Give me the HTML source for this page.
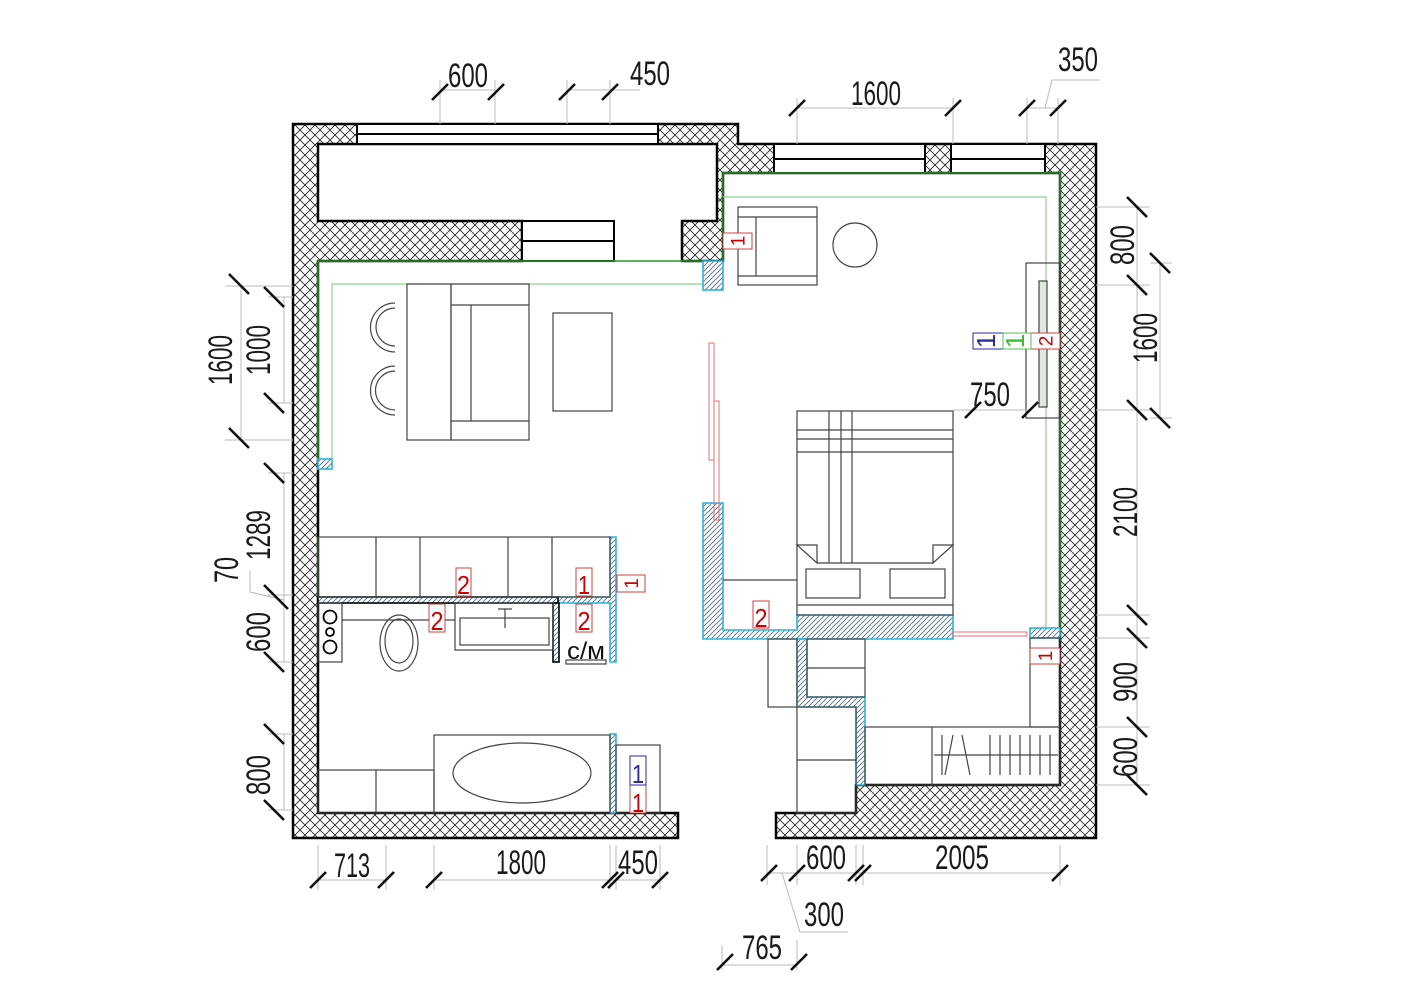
<!DOCTYPE html>
<html><head><meta charset="utf-8"><style>
html,body{margin:0;padding:0;background:#fff;width:1415px;height:1000px;overflow:hidden}
svg{display:block}
.d{font-family:"Liberation Sans",sans-serif;font-size:34px;fill:#1a1a1a}
.r{font-family:"Liberation Sans",sans-serif;font-size:26px;fill:#c00}
.t{stroke:#111;stroke-width:2.6}
.e{stroke:#bbb;stroke-width:1;fill:none}
.f{fill:none;stroke:#444;stroke-width:1.2}
</style></head><body>
<svg width="1415" height="1000" viewBox="0 0 1415 1000" xmlns="http://www.w3.org/2000/svg">
<defs>
<pattern id="x" width="10" height="10" patternUnits="userSpaceOnUse">
<rect width="10" height="10" fill="#fff"/>
<path d="M0,10 L10,0 M-2,2 L2,-2 M8,12 L12,8" stroke="#222" stroke-width="0.8"/>
<path d="M0,0 L10,10 M-2,8 L2,12 M8,-2 L12,2" stroke="#222" stroke-width="0.8"/>
</pattern>
<pattern id="b" width="5" height="5" patternUnits="userSpaceOnUse">
<rect width="5" height="5" fill="#fff"/>
<path d="M0,5 L5,0 M-1,1 L1,-1 M4,6 L6,4" stroke="#4a6a80" stroke-width="0.8"/>
</pattern>
</defs>

<path d="M738,124 H293 V838 H678 V813 H318 V261 H522 V221 H318 V144 H717 V221 H682 V261 H723 V173 H1060 V785 H856 V813 H776 V838 H1096 V144 H738 Z" fill="url(#x)" stroke="#000" stroke-width="2.5"/>
<rect x="357" y="124" width="301" height="20" fill="#fff" stroke="#000" stroke-width="2"/>
<line x1="357" y1="134" x2="658" y2="134" stroke="#000" stroke-width="2"/>
<rect x="774" y="144" width="151" height="29" fill="#fff" stroke="#000" stroke-width="2"/>
<line x1="774" y1="159" x2="925" y2="159" stroke="#000" stroke-width="2"/>
<rect x="951" y="144" width="94" height="29" fill="#fff" stroke="#000" stroke-width="2"/>
<line x1="951" y1="159" x2="1045" y2="159" stroke="#000" stroke-width="2"/>
<rect x="522" y="221" width="92" height="40" fill="#fff" stroke="#000" stroke-width="2"/>
<line x1="522" y1="241" x2="614" y2="241" stroke="#000" stroke-width="2"/>

<g stroke="#2a9a2a" fill="none">
<path d="M318,470 V261 H703" stroke-width="1.5"/>
<path d="M332,459 V284 H703" stroke="#8fd08f" stroke-width="1.2"/>
<path d="M723,261 V173 H1060 V628" stroke-width="1.5"/>
<path d="M723,197 H1046 V628" stroke="#8fd08f" stroke-width="1.2"/>
<line x1="318" y1="537" x2="318" y2="597" stroke-width="1.5"/>
</g>

<g fill="url(#b)" stroke="#2ab4e0" stroke-width="1.6">
<rect x="703" y="261" width="20" height="29"/>
<rect x="318" y="459" width="14" height="10"/>
<path d="M703,503 H723 V630 H797 V615 H953 V639 H703 Z"/>
<path d="M797,639 H807 V697 H865 V785 H856 V707 H797 Z"/>
<rect x="1030" y="628" width="30" height="10"/>
<path d="M610,537 H616 V662 H610 V603 H558 V597 H610 Z"/>
<rect x="610" y="734" width="6" height="79"/>
</g>
<g fill="url(#b)" stroke="#000" stroke-width="1.6">
<rect x="318" y="597" width="240" height="6"/>
<rect x="553" y="603" width="6" height="59"/>
</g>

<g class="f">
<rect x="318" y="537" width="292" height="60"/>
<path d="M376,537 V597 M420,537 V597 M508,537 V597 M552,537 V597"/>
<rect x="318" y="603" width="24" height="59"/>
<circle cx="330" cy="617" r="6.5" stroke="#000" stroke-width="1.8"/>
<circle cx="330" cy="632" r="4" stroke="#000" stroke-width="1.8"/>
<circle cx="330" cy="647" r="6.5" stroke="#000" stroke-width="1.8"/>
<line x1="342" y1="620" x2="455" y2="620"/>
<ellipse cx="399" cy="643" rx="19" ry="28"/>
<ellipse cx="399" cy="641" rx="14" ry="22"/>
<rect x="455" y="603" width="98" height="47"/>
<rect x="460" y="618" width="89" height="27"/>
<path d="M498,609 H512 M505,609 V628"/>
<rect x="566" y="660" width="40" height="4"/>
<rect x="434" y="735" width="176" height="78"/>
<ellipse cx="522" cy="773" rx="69" ry="30"/>
<rect x="318" y="770" width="116" height="43"/>
<line x1="376" y1="770" x2="376" y2="813"/>
<rect x="616" y="745" width="44" height="68"/>
<path d="M395,303 A22,22 0 1,0 395,352 M395,308 A18,18 0 1,0 395,346"/>
<path d="M395,366 A22,22 0 1,0 395,415 M395,371 A18,18 0 1,0 395,410"/>
<rect x="407" y="284" width="44" height="156"/>
<rect x="451" y="284" width="78" height="156"/>
<path d="M451,305 H529 M451,421 H529 M471,305 V421"/>
<rect x="553" y="313" width="59" height="98"/>
<rect x="738" y="207" width="79" height="78"/>
<path d="M738,217 H817 M738,276 H817 M756,217 V276"/>
<circle cx="855" cy="245" r="22"/>
<rect x="1026" y="263" width="34" height="155"/>
<rect x="1039" y="281" width="8" height="126" fill="#dfe8df"/>
<rect x="797" y="411" width="156" height="204"/>
<path d="M797,430 H953 M797,439 H953 M797,452 H953 M829,411 V563 M841,411 V563 M852,411 V563 M817,563 H933 M797,605 H953"/>
<path d="M797,545 L817,545 L817,563 Z M953,545 L933,545 L933,563 Z"/>
<rect x="806" y="569" width="54" height="29"/>
<rect x="890" y="569" width="55" height="29"/>
<rect x="768" y="639" width="29" height="68"/>
<path d="M723,580 H797"/>
<rect x="807" y="639" width="58" height="58"/>
<line x1="807" y1="668" x2="865" y2="668"/>
<rect x="797" y="707" width="59" height="106"/>
<line x1="797" y1="760" x2="856" y2="760"/>
<rect x="865" y="727" width="195" height="58"/>
<line x1="932" y1="727" x2="932" y2="785"/>
<rect x="1030" y="638" width="30" height="89"/>
<path d="M934,755 H1058 M942,735 V775 M953,735 L945,775 M962,735 L970,775 M990,735 V775 M1000,735 V775 M1010,735 V775 M1020,735 V775 M1030,735 V775 M1040,735 V775 M1050,735 V775"/>
</g>

<g fill="none" stroke="#e07070" stroke-width="1">
<rect x="709" y="343" width="5" height="117"/>
<rect x="714" y="401" width="5" height="119"/>
<rect x="953" y="632" width="74" height="4"/>
</g>

<g fill="#fff" stroke="#d04040" stroke-width="1">
<rect x="456" y="568" width="15" height="28"/>
<rect x="576" y="568" width="16" height="28"/>
<rect x="617" y="575" width="28" height="17"/>
<rect x="429" y="604" width="16" height="28"/>
<rect x="576" y="604" width="16" height="28"/>
<rect x="630" y="785" width="16" height="28"/>
<rect x="723" y="233" width="29" height="16"/>
<rect x="1031" y="333" width="29" height="16"/>
<rect x="1030" y="648" width="30" height="16"/>
<rect x="753" y="601" width="16" height="27"/>
</g>
<rect x="630" y="756" width="16" height="29" fill="#fff" stroke="#2a2aa0"/>
<rect x="973" y="333" width="30" height="16" fill="#fff" stroke="#2a2aa0"/>
<rect x="1003" y="333" width="28" height="16" fill="#fff" stroke="#50c050"/>
<g class="r">
<text x="463.5" y="594" text-anchor="middle" textLength="13" lengthAdjust="spacingAndGlyphs">2</text>
<text x="584" y="594" text-anchor="middle" textLength="12" lengthAdjust="spacingAndGlyphs">1</text>
<text x="437" y="630" text-anchor="middle" textLength="13" lengthAdjust="spacingAndGlyphs">2</text>
<text x="584" y="630" text-anchor="middle" textLength="13" lengthAdjust="spacingAndGlyphs">2</text>
<text x="638" y="812" text-anchor="middle" textLength="12" lengthAdjust="spacingAndGlyphs">1</text>
<text x="761" y="627" text-anchor="middle" textLength="13" lengthAdjust="spacingAndGlyphs">2</text>
<text transform="translate(631,583.5) rotate(-90)" text-anchor="middle" y="7" font-size="19">1</text>
<text transform="translate(737.5,241) rotate(-90)" text-anchor="middle" y="7" font-size="19">1</text>
<text transform="translate(1045.5,341) rotate(-90)" text-anchor="middle" y="7" font-size="19">2</text>
<text transform="translate(1045,656) rotate(-90)" text-anchor="middle" y="7" font-size="19">1</text>
</g>
<text x="638" y="783" text-anchor="middle" class="r" style="fill:#2a2aa0" textLength="12" lengthAdjust="spacingAndGlyphs">1</text>
<text transform="translate(988,341) rotate(-90)" text-anchor="middle" y="7" class="r" font-size="19" style="fill:#2a2aa0">1</text>
<text transform="translate(1017,341) rotate(-90)" text-anchor="middle" y="7" class="r" font-size="19" style="fill:#30c030">1</text>
<text x="586" y="659" text-anchor="middle" font-family="Liberation Sans,sans-serif" font-size="24" fill="#111" textLength="38" lengthAdjust="spacingAndGlyphs">с/м</text>

<g class="e">
<path d="M440,90 H495 M440,80 V124 M495,80 V124"/>
<path d="M567,90 H640 M567,80 V124 M610,80 V124"/>
<path d="M797,108 H953 M797,98 V144 M953,98 V144"/>
<path d="M1027,108 H1058 M1027,98 V144 M1058,98 V144 M1045,108 L1052,80 H1100"/>
<path d="M241,286 V440 M225,286 H293 M225,440 H293"/>
<path d="M284,297 V403 M268,297 H293 M268,403 H293"/>
<path d="M284,473 V662 M268,473 H293 M268,595 H293 M268,662 H293 M284,600 L250,592 V570"/>
<path d="M284,734 V810 M268,734 H293 M268,810 H293"/>
<path d="M1137,207 V785 M1096,207 H1150 M1096,285 H1150 M1096,410 H1150 M1096,615 H1150 M1096,638 H1150 M1096,727 H1150 M1096,785 H1150"/>
<path d="M1160,263 V418 M1150,263 H1172 M1150,418 H1172"/>
<path d="M318,880 H386 M434,880 H660 M318,845 V890 M386,845 V890 M434,845 V890 M610,845 V890 M616,845 V890 M660,845 V890"/>
<path d="M767,873 H1060 M767,845 V885 M797,845 V885 M856,845 V885 M863,845 V885 M1060,845 V885"/>
<path d="M782,873 L800,932 H848"/>
<path d="M722,965 H797 M722,945 V970 M797,940 V970"/>
<path d="M953,410 L1030,410"/>
</g>

<g class="t">
<path d="M432,100 L448,84 M488,100 L504,84 M559,100 L575,84 M602,100 L618,84"/>
<path d="M789,116 L805,100 M945,116 L961,100 M1019,116 L1035,100 M1050,116 L1066,100"/>
<path d="M229,274 L249,294 M229,428 L249,448 M264,287 L284,307 M264,393 L284,413 M264,463 L284,483 M264,585 L284,605 M268,589 L288,609 M264,652 L284,672 M264,724 L284,744 M264,800 L284,820"/>
<path d="M1127,197 L1147,217 M1127,275 L1147,295 M1150,253 L1170,273 M1150,408 L1170,428 M1127,400 L1147,420 M1127,605 L1147,625 M1127,628 L1147,648 M1127,717 L1147,737 M1127,775 L1147,795"/>
<path d="M310,888 L326,872 M378,888 L394,872 M426,888 L442,872 M602,888 L618,872 M608,888 L624,872 M652,888 L668,872"/>
<path d="M761,881 L777,865 M789,881 L805,865 M848,881 L864,865 M855,881 L871,865 M1052,881 L1068,865"/>
<path d="M717,970 L733,954 M791,970 L807,954"/>
<path d="M965,418 L981,402 M1022,418 L1038,402"/>
</g>

<g class="d">
<text x="468" y="87" text-anchor="middle" textLength="40" lengthAdjust="spacingAndGlyphs">600</text>
<text x="650" y="85" text-anchor="middle" textLength="40" lengthAdjust="spacingAndGlyphs">450</text>
<text x="876" y="105" text-anchor="middle" textLength="50" lengthAdjust="spacingAndGlyphs">1600</text>
<text x="1078" y="71" text-anchor="middle" textLength="40" lengthAdjust="spacingAndGlyphs">350</text>
<text x="990" y="406" text-anchor="middle" textLength="40" lengthAdjust="spacingAndGlyphs">750</text>
<text x="352" y="877" text-anchor="middle" textLength="36" lengthAdjust="spacingAndGlyphs">713</text>
<text x="521" y="874" text-anchor="middle" textLength="50" lengthAdjust="spacingAndGlyphs">1800</text>
<text x="638" y="874" text-anchor="middle" textLength="40" lengthAdjust="spacingAndGlyphs">450</text>
<text x="826" y="869" text-anchor="middle" textLength="40" lengthAdjust="spacingAndGlyphs">600</text>
<text x="962" y="869" text-anchor="middle" textLength="54" lengthAdjust="spacingAndGlyphs">2005</text>
<text x="824" y="926" text-anchor="middle" textLength="40" lengthAdjust="spacingAndGlyphs">300</text>
<text x="762" y="959" text-anchor="middle" textLength="40" lengthAdjust="spacingAndGlyphs">765</text>
<text transform="translate(232,360) rotate(-90)" text-anchor="middle" textLength="50" lengthAdjust="spacingAndGlyphs">1600</text>
<text transform="translate(270,350) rotate(-90)" text-anchor="middle" textLength="50" lengthAdjust="spacingAndGlyphs">1000</text>
<text transform="translate(270,535) rotate(-90)" text-anchor="middle" textLength="50" lengthAdjust="spacingAndGlyphs">1289</text>
<text transform="translate(238,570) rotate(-90)" text-anchor="middle" textLength="26" lengthAdjust="spacingAndGlyphs">70</text>
<text transform="translate(270,632) rotate(-90)" text-anchor="middle" textLength="40" lengthAdjust="spacingAndGlyphs">600</text>
<text transform="translate(270,775) rotate(-90)" text-anchor="middle" textLength="40" lengthAdjust="spacingAndGlyphs">800</text>
<text transform="translate(1134,245) rotate(-90)" text-anchor="middle" textLength="40" lengthAdjust="spacingAndGlyphs">800</text>
<text transform="translate(1157,338) rotate(-90)" text-anchor="middle" textLength="50" lengthAdjust="spacingAndGlyphs">1600</text>
<text transform="translate(1137,512) rotate(-90)" text-anchor="middle" textLength="50" lengthAdjust="spacingAndGlyphs">2100</text>
<text transform="translate(1137,682) rotate(-90)" text-anchor="middle" textLength="40" lengthAdjust="spacingAndGlyphs">900</text>
<text transform="translate(1137,757) rotate(-90)" text-anchor="middle" textLength="40" lengthAdjust="spacingAndGlyphs">600</text>
</g>
</svg>
</body></html>
